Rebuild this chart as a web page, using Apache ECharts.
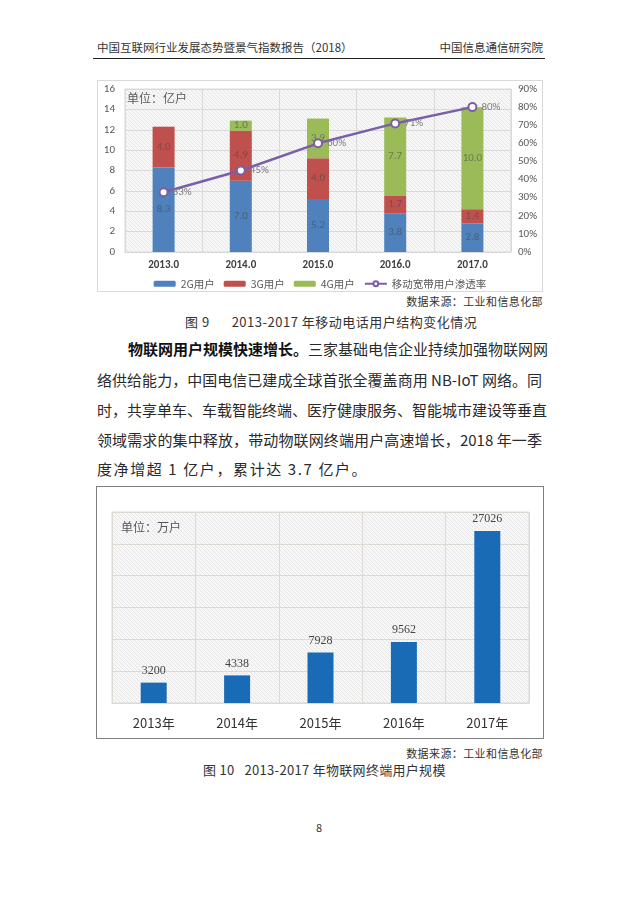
<!DOCTYPE html>
<html><head><meta charset="utf-8">
<script src="https://cdn.jsdelivr.net/npm/echarts@6/dist/echarts.min.js"></script>
<style>
html,body{margin:0;padding:0;background:#fff;}
body{width:640px;height:905px;position:relative;overflow:hidden;font-family:"Noto Sans CJK SC","Noto Sans",sans-serif;color:#222;}
.t{position:absolute;white-space:nowrap;line-height:1;}
.j{position:absolute;white-space:nowrap;line-height:1;text-align:justify;text-align-last:justify;font-size:15px;color:#2a2a2a;}
#c1{position:absolute;left:97px;top:80px;width:446px;height:212px;border:1px solid #d9d9d9;box-sizing:border-box;}
#c2{position:absolute;left:96px;top:486px;width:448px;height:253px;border:1.5px solid #7f7f7f;box-sizing:border-box;}
</style></head><body>
<div class="t" style="left:97px;top:42px;font-size:11.5px;color:#333;">中国互联网行业发展态势暨景气指数报告（2018）</div>
<div class="t" style="right:97px;top:42px;font-size:11.5px;color:#333;">中国信息通信研究院</div>
<div style="position:absolute;left:93px;top:58px;width:452px;height:1px;background:#222;"></div>
<div id="c1"></div>
<div class="t" style="right:97px;top:296px;font-size:11px;letter-spacing:0.4px;color:#333;">数据来源：工业和信息化部</div>
<div class="t" style="left:185px;top:315px;font-size:13px;letter-spacing:0.5px;color:#333;"><span style="margin-right:22px;">图 9</span>2013-2017 年移动电话用户结构变化情况</div>
<div class="j" style="left:128px;top:341px;width:414px;"><b style="color:#111;">物联网用户规模快速增长。</b>三家基础电信企业持续加强物联网网</div>
<div class="j" style="left:97px;top:372px;width:445px;">络供给能力，中国电信已建成全球首张全覆盖商用 NB-IoT 网络。同</div>
<div class="j" style="left:97px;top:402px;width:445px;">时，共享单车、车载智能终端、医疗健康服务、智能城市建设等垂直</div>
<div class="j" style="left:97px;top:432px;width:445px;">领域需求的集中释放，带动物联网终端用户高速增长，2018 年一季</div>
<div class="t" style="left:97px;top:461px;font-size:15px;letter-spacing:1.6px;color:#2a2a2a;">度净增超 1 亿户，累计达 3.7 亿户。</div>
<div id="c2"></div>
<div class="t" style="right:97px;top:748px;font-size:11px;letter-spacing:0.4px;color:#333;">数据来源：工业和信息化部</div>
<div class="t" style="left:203px;top:763px;font-size:13px;letter-spacing:0.3px;color:#333;"><span style="margin-right:10px;">图 10</span>2013-2017 年物联网终端用户规模</div>
<div class="t" style="left:316px;top:822px;font-size:11px;color:#333;">8</div>
<script>
// ---- Chart 1 data ----
var years1 = ['2013.0','2014.0','2015.0','2016.0','2017.0'];
var users2G = [8.3, 7.0, 5.2, 3.8, 2.8];
var users3G = [4.0, 4.9, 4.0, 1.7, 1.4];
var users4G = [null, 1.0, 3.9, 7.7, 10.0];
var penetration = [0.33, 0.45, 0.60, 0.71, 0.80];
var leftTicks = {min:0, max:16, interval:2};
var rightTicks = {min:0, max:0.9, interval:0.1};
// ---- Chart 2 data ----
var years2 = ['2013年','2014年','2015年','2016年','2017年'];
var iotUsers = [3200, 4338, 7928, 9562, 27026];

function hatch(){
  var c = document.createElement('canvas');
  c.width = 4; c.height = 4;
  var g = c.getContext('2d');
  g.fillStyle = '#f7f7f7'; g.fillRect(0,0,4,4);
  g.strokeStyle = '#e6e6e6'; g.lineWidth = 1;
  g.beginPath(); g.moveTo(-1,-1); g.lineTo(5,5); g.stroke();
  g.beginPath(); g.moveTo(-3,1); g.lineTo(3,7); g.stroke();
  g.beginPath(); g.moveTo(1,-3); g.lineTo(7,3); g.stroke();
  return {image:c, repeat:'repeat'};
}

var c1 = echarts.init(document.getElementById('c1'), null, {renderer:'canvas'});
var inLabel = {show:true, position:'inside', color:'rgba(70,70,70,0.55)', fontSize:11, fontFamily:'Calibri, Carlito, "Liberation Sans", sans-serif', formatter:function(p){return p.value==null?'':p.value.toFixed(1);}};
c1.setOption({
  animation:false,
  grid:{left:27, right:31, top:8, bottom:39, show:true, backgroundColor:hatch(), borderColor:'#d9d9d9', borderWidth:1},
  legend:{bottom:0, padding:[2,5,2,5], left:'center', itemWidth:22, itemHeight:6, itemGap:9, textStyle:{fontSize:10.5, color:'#595959', fontFamily:'"Noto Sans CJK SC", sans-serif'},
    data:[{name:'2G用户'},{name:'3G用户'},{name:'4G用户'},{name:'移动宽带用户渗透率', itemStyle:{color:'#fff', borderColor:'#7b5ea7', borderWidth:2}}]},
  graphic:[{type:'text', left:29, top:11, style:{text:'单位：亿户', fontSize:12, fill:'#595959', fontFamily:'"Noto Sans CJK SC", sans-serif'}}],
  xAxis:{type:'category', data:years1, axisLine:{lineStyle:{color:'#d9d9d9'}}, axisTick:{show:false},
    axisLabel:{color:'#404040', fontSize:11, fontWeight:'bold', margin:8, fontFamily:'Calibri, Carlito, "Liberation Sans", sans-serif'},
    splitLine:{show:true, lineStyle:{color:'#d9d9d9'}}},
  yAxis:[
    {type:'value', min:leftTicks.min, max:leftTicks.max, interval:leftTicks.interval, axisLine:{show:false}, axisTick:{show:false},
      axisLabel:{color:'#595959', fontSize:11, margin:10, fontFamily:'Calibri, Carlito, "Liberation Sans", sans-serif'},
      splitLine:{lineStyle:{color:'#d9d9d9'}}},
    {type:'value', min:rightTicks.min, max:rightTicks.max, interval:rightTicks.interval, axisLine:{show:false}, axisTick:{show:false},
      axisLabel:{color:'#595959', fontSize:11, margin:7, fontFamily:'Calibri, Carlito, "Liberation Sans", sans-serif', formatter:function(v){return Math.round(v*100)+'%';}},
      splitLine:{show:false}}
  ],
  series:[
    {name:'2G用户', type:'bar', stack:'u', barWidth:22, data:users2G, itemStyle:{color:'#4f81bd'}, label:inLabel},
    {name:'3G用户', type:'bar', stack:'u', data:users3G, itemStyle:{color:'#c0504d'}, label:inLabel},
    {name:'4G用户', type:'bar', stack:'u', data:users4G, itemStyle:{color:'#9bbb59'}, label:inLabel},
    {name:'移动宽带用户渗透率', type:'line', yAxisIndex:1, data:penetration, symbol:'circle', symbolSize:8,
      lineStyle:{color:'#7b5ea7', width:2.5}, itemStyle:{color:'#fff', borderColor:'#7b5ea7', borderWidth:2},
      label:{show:true, position:'right', distance:4, color:'#7f7f7f', fontSize:11, fontFamily:'Calibri, Carlito, "Liberation Sans", sans-serif', formatter:function(p){return Math.round(p.value*100)+'%';}}}
  ]
});

var c2 = echarts.init(document.getElementById('c2'), null, {renderer:'canvas'});
c2.setOption({
  animation:false,
  grid:{left:15, right:14, top:25, bottom:35, show:true, backgroundColor:hatch(), borderColor:'#dedad3', borderWidth:1},
  graphic:[{type:'text', left:24, top:34, style:{text:'单位：万户', fontSize:12, fill:'#555', fontFamily:'"Noto Sans CJK SC", sans-serif'}}],
  xAxis:{type:'category', data:years2, axisLine:{lineStyle:{color:'#dedad3'}}, axisTick:{show:false},
    axisLabel:{color:'#333', fontSize:13, margin:14, fontFamily:'"Noto Sans CJK SC", sans-serif'},
    splitLine:{show:true, lineStyle:{color:'#dedad3'}}},
  yAxis:{type:'value', min:0, max:30000, interval:5000, axisLabel:{show:false}, axisLine:{show:false}, axisTick:{show:false},
    splitLine:{lineStyle:{color:'#dedad3'}}},
  series:[{type:'bar', data:iotUsers, barWidth:26, itemStyle:{color:'#1a6bb5'},
    label:{show:true, position:'top', distance:6, color:'#444', fontSize:12, fontFamily:'"Liberation Serif", "DejaVu Serif", serif'}}]
});
</script>
</body></html>
